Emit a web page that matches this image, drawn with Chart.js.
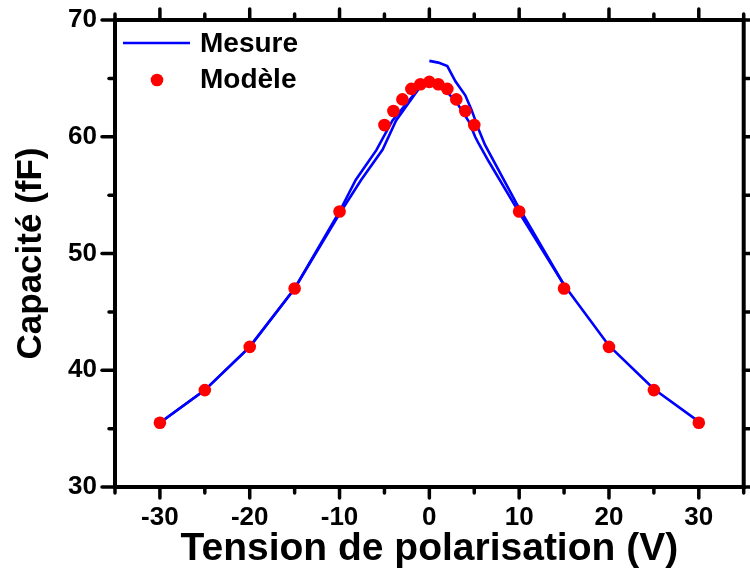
<!DOCTYPE html>
<html>
<head>
<meta charset="utf-8">
<script src="https://cdn.jsdelivr.net/npm/chart.js@4/dist/chart.umd.min.js"></script>
<style>
  html, body { margin: 0; padding: 0; background: #ffffff; }
  #wrap { width: 750px; height: 574px; position: relative; }
</style>
</head>
<body>
<div id="wrap"><canvas id="c" width="750" height="574"></canvas></div>
<script>
// ---------- data ----------
const xTickValues = [-30, -20, -10, 0, 10, 20, 30];
const yTickValues = [30, 40, 50, 60, 70];

// Modèle (model points)
const modeleV = [-30, -25, -20, -15, -10, -5, -4, -3, -2, -1, 0, 1, 2, 3, 4, 5, 10, 15, 20, 25, 30];
const modeleC = [35.5, 38.3, 42.0, 47.0, 53.6, 61.0, 62.2, 63.2, 64.1, 64.5, 64.7, 64.5, 64.1, 63.2, 62.2, 61.0, 53.6, 47.0, 42.0, 38.3, 35.5];

// Mesure, branch 1 (-30 -> +30)
const mesure1V = [-30, -25, -20, -15, -10, -7.6, -5.2, -3.7, -1.2, 0, 1, 2, 3, 4.4, 5.1, 5.5, 6.6, 10, 15, 20, 25, 30];
const mesure1C = [35.5, 38.3, 42.0, 47.0, 53.4, 56.3, 58.9, 61.4, 64.1, 64.6, 64.4, 63.8, 63.0, 61.3, 60.0, 59.4, 57.9, 53.5, 47.3, 42.1, 38.4, 35.6];

// Mesure, branch 2 (left return)
const mesure2V = [-30, -25, -20, -15, -10, -8.2, -5.9, -4.1, -1.2];
const mesure2C = [35.5, 38.3, 42.0, 47.0, 53.6, 56.3, 58.85, 61.4, 64.1];

// Mesure, branch 3 (starting at 0 V, upper right)
const mesure3V = [0, 1, 2, 2.9, 4, 4.7, 5.5, 6.2, 9.7, 15];
const mesure3C = [66.5, 66.35, 66.05, 64.75, 63.55, 62.3, 60.6, 59.3, 54.3, 47.3];

const legendLabels = ['Mesure', 'Modèle'];
const xTitle = 'Tension de polarisation (V)';
const yTitle = 'Capacité (fF)';

// ---------- helpers ----------
const FONT = "'Liberation Sans', Arial, Helvetica, sans-serif";
const pts = (xs, ys) => xs.map((v, i) => ({ x: v, y: ys[i] }));
const BLUE = '#0000ff';
const RED = '#ff0000';

const lineDs = (xs, ys) => ({
  label: legendLabels[0],
  data: pts(xs, ys),
  showLine: true,
  borderColor: BLUE,
  borderWidth: 2.6,
  pointRadius: 0,
  pointHoverRadius: 0,
  tension: 0,
  fill: false,
  order: 2
});

const framePlugin = {
  id: 'frameTicksLegend',
  afterDraw(chart) {
    const ctx = chart.ctx;
    const xs = chart.scales.x, ys = chart.scales.y;
    const a = chart.chartArea;
    ctx.save();
    ctx.strokeStyle = '#000';
    ctx.lineCap = 'round';
    // ticks
    ctx.lineWidth = 3.5;
    const majL = 11, minL = 6;
    for (let v = -35; v <= 35; v += 5) {
      const px = xs.getPixelForValue(v);
      const L = (v % 10 === 0) ? majL : minL;
      ctx.beginPath(); ctx.moveTo(px, a.bottom); ctx.lineTo(px, a.bottom + L); ctx.stroke();
      ctx.beginPath(); ctx.moveTo(px, a.top); ctx.lineTo(px, a.top - L); ctx.stroke();
    }
    for (let v = 30; v <= 70; v += 5) {
      const py = ys.getPixelForValue(v);
      const L = (v % 10 === 0) ? majL + 2 : minL;
      ctx.beginPath(); ctx.moveTo(a.left, py); ctx.lineTo(a.left - L, py); ctx.stroke();
      ctx.beginPath(); ctx.moveTo(a.right, py); ctx.lineTo(a.right + L, py); ctx.stroke();
    }
    // frame
    ctx.lineCap = 'butt';
    ctx.lineWidth = 4;
    ctx.strokeRect(a.left, a.top, a.right - a.left, a.bottom - a.top);
    // legend
    const lx = a.left, ly = a.top;
    ctx.strokeStyle = BLUE;
    ctx.lineWidth = 2.6;
    ctx.beginPath(); ctx.moveTo(lx + 8, ly + 23); ctx.lineTo(lx + 75, ly + 23); ctx.stroke();
    ctx.fillStyle = RED;
    ctx.beginPath(); ctx.arc(lx + 42, ly + 60, 6.3, 0, Math.PI * 2); ctx.fill();
    ctx.fillStyle = '#000';
    ctx.font = 'bold 28px ' + FONT;
    ctx.textAlign = 'left';
    ctx.textBaseline = 'middle';
    ctx.fillText(legendLabels[0], lx + 85, ly + 24);
    ctx.fillText(legendLabels[1], lx + 85, ly + 60);
    ctx.restore();
  }
};

new Chart(document.getElementById('c'), {
  type: 'scatter',
  data: {
    datasets: [
      {
        label: legendLabels[1],
        data: pts(modeleV, modeleC),
        showLine: false,
        pointStyle: 'circle',
        pointRadius: 6.3,
        pointHoverRadius: 6.3,
        backgroundColor: RED,
        borderColor: RED,
        borderWidth: 0,
        order: 1
      },
      lineDs(mesure1V, mesure1C),
      lineDs(mesure2V, mesure2C),
      lineDs(mesure3V, mesure3C)
    ]
  },
  options: {
    responsive: false,
    animation: false,
    devicePixelRatio: 1,
    layout: { padding: { top: 20, right: 4, left: 0, bottom: 0 } },
    plugins: {
      legend: { display: false },
      tooltip: { enabled: false }
    },
    scales: {
      x: {
        type: 'linear',
        min: -35, max: 35,
        afterBuildTicks: s => { s.ticks = xTickValues.map(v => ({ value: v })); },
        afterFit: s => { s.height = 87; s.paddingLeft = 0; s.paddingRight = 0; },
        grid: { display: false, drawTicks: false },
        border: { display: false },
        ticks: {
          color: '#000',
          padding: 15,
          maxRotation: 0,
          autoSkip: false,
          font: { family: FONT, size: 26, weight: 'bold' }
        },
        title: {
          display: true,
          text: xTitle,
          color: '#000',
          padding: { top: 0, bottom: 1 },
          font: { family: FONT, size: 39, weight: 'bold' }
        }
      },
      y: {
        type: 'linear',
        min: 30, max: 70,
        afterBuildTicks: s => { s.ticks = yTickValues.map(v => ({ value: v })); },
        afterFit: s => { s.width = 115; s.paddingTop = 0; s.paddingBottom = 0; },
        grid: { display: false, drawTicks: false },
        border: { display: false },
        ticks: {
          color: '#000',
          padding: 18,
          autoSkip: false,
          font: { family: FONT, size: 26, weight: 'bold' }
        },
        title: {
          display: true,
          text: yTitle,
          color: '#000',
          padding: { top: 10, bottom: 0 },
          font: { family: FONT, size: 35, weight: 'bold' }
        }
      }
    }
  },
  plugins: [framePlugin]
});
</script>
</body>
</html>
